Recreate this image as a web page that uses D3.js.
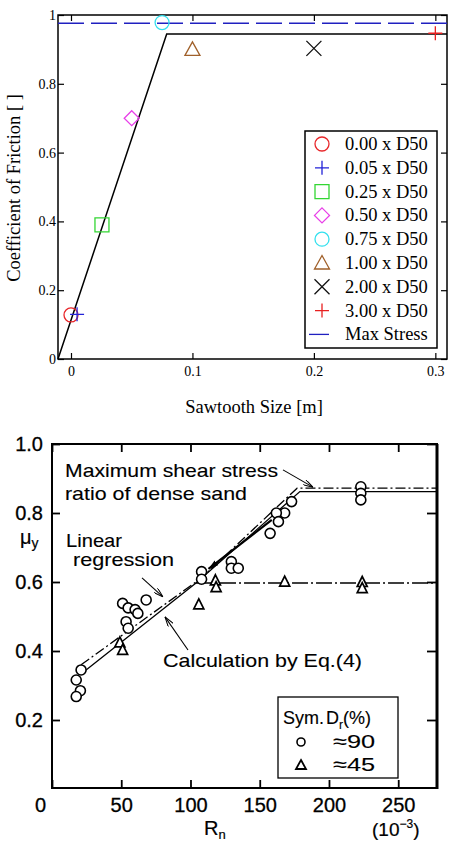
<!DOCTYPE html>
<html>
<head>
<meta charset="utf-8">
<script src="https://cdn.jsdelivr.net/npm/d3@7"></script>
<style>
body { margin: 0; background: #fff; }
svg { display: block; }
</style>
</head>
<body>
<svg id="chart" width="452" height="842"></svg>
<script>
// ---------- top chart data ----------
const sizeLabels   = ["0.00 x D50", "0.05 x D50", "0.25 x D50", "0.50 x D50", "0.75 x D50", "1.00 x D50", "2.00 x D50", "3.00 x D50"];
const sawtoothSize = [0.000, 0.005, 0.0255, 0.050, 0.075, 0.100, 0.200, 0.300];
const friction     = [0.128, 0.130, 0.390, 0.700, 0.978, 0.900, 0.903, 0.947];
const maxStress    = 0.976;
const fitSize      = [-0.0107, 0.0788, 0.3096];
const fitFriction  = [0, 0.945, 0.945];
const xTicksTop    = [0, 0.1, 0.2, 0.3];
const xLabelsTop   = ["0", "0.1", "0.2", "0.3"];
const yTicksTop    = [0, 0.2, 0.4, 0.6, 0.8, 1];
const yLabelsTop   = ["0", "0.2", "0.4", "0.6", "0.8", "1"];

// ---------- bottom chart data ----------
const denseR  = [21, 17.5, 20.5, 17.5, 51, 55, 60, 62, 68, 53.5, 55, 108, 108, 129.5, 129.5, 134.5, 173, 168, 162, 163.5, 157.5, 223, 223, 223];
const denseMu = [0.345, 0.316, 0.285, 0.268, 0.538, 0.525, 0.52, 0.509, 0.548, 0.485, 0.466, 0.63, 0.608, 0.659, 0.64, 0.64, 0.833, 0.80, 0.80, 0.775, 0.741, 0.876, 0.857, 0.838];
const looseR  = [49, 51, 106, 118, 118.5, 168, 224, 224];
const looseMu = [0.425, 0.403, 0.535, 0.605, 0.585, 0.601, 0.600, 0.582];
const calcDenseR  = [24.6, 104, 179, 278];
const calcDenseMu = [0.345, 0.597, 0.862, 0.862];
const regDenseR   = [21, 108, 177, 278];
const regDenseMu  = [0.36, 0.612, 0.872, 0.872];
const looseFlatR  = [104, 278];
const looseFlatMu = [0.597, 0.597];
const xTicksBot   = [0, 50, 100, 150, 200, 250];
const yTicksBot   = [0.2, 0.4, 0.6, 0.8, 1.0];
const yLabelsBot  = ["0.2", "0.4", "0.6", "0.8", "1.0"];

let svg = d3.select("#chart");

// marker drawing
function marker(g, shape, cx, cy, color, s) {
    let p;
    if (shape == "circle") {
        return g.append("circle").attr("cx", cx).attr("cy", cy).attr("r", s)
            .attr("fill", "none").attr("stroke", color).attr("stroke-width", 1.3);
    }
    if (shape == "plus")     p = `M${cx - s},${cy}H${cx + s}M${cx},${cy - s}V${cy + s}`;
    if (shape == "x")        p = `M${cx - s},${cy - s}L${cx + s},${cy + s}M${cx - s},${cy + s}L${cx + s},${cy - s}`;
    if (shape == "square")   p = `M${cx - s},${cy - s}H${cx + s}V${cy + s}H${cx - s}Z`;
    if (shape == "diamond")  p = `M${cx},${cy - s}L${cx + s},${cy}L${cx},${cy + s}L${cx - s},${cy}Z`;
    if (shape == "triangle") p = `M${cx},${cy - s}L${cx + s},${cy + s * 0.8}L${cx - s},${cy + s * 0.8}Z`;
    return g.append("path").attr("d", p).attr("fill", "none")
        .attr("stroke", color).attr("stroke-width", 1.3);
}

// ================= TOP CHART =================
let topG = svg.append("g");
let xT = d3.scaleLinear().domain([-0.0107, 0.3096]).range([58, 447]);
let yT = d3.scaleLinear().domain([0, 1]).range([359, 15]);

const shapes = ["circle", "plus", "square", "diamond", "circle", "triangle", "x", "plus"];
const colors = ["#e8262a", "#2323d8", "#33d633", "#e83ee8", "#33e0ee", "#a0602a", "#111111", "#e82020"];
const sizes  = [7, 7, 7, 7.5, 7, 7.5, 7.5, 7];

function styleAxis(g, font, size) {
    g.select(".domain").remove();
    g.selectAll("line").attr("stroke", "#000").attr("stroke-width", 1.2);
    g.selectAll("text").attr("font-family", font).attr("font-size", size).attr("fill", "#000");
}

topG.append("g").attr("transform", "translate(0,359)")
    .call(d3.axisBottom(xT).tickValues(xTicksTop).tickFormat((d, i) => xLabelsTop[i]).tickSize(-6).tickPadding(7))
    .call(g => styleAxis(g, "Liberation Serif", 14));
topG.append("g").attr("transform", "translate(58,0)")
    .call(d3.axisLeft(yT).tickValues(yTicksTop).tickFormat((d, i) => yLabelsTop[i]).tickSize(-6).tickPadding(2))
    .call(g => styleAxis(g, "Liberation Serif", 14));
topG.append("g").attr("transform", "translate(0,15)")
    .call(d3.axisTop(xT).tickValues(xTicksTop).tickFormat("").tickSize(-6))
    .call(g => styleAxis(g, "Liberation Serif", 14));
topG.append("g").attr("transform", "translate(447,0)")
    .call(d3.axisRight(yT).tickValues(yTicksTop).tickFormat("").tickSize(-6))
    .call(g => styleAxis(g, "Liberation Serif", 14));

// frame
topG.append("rect").attr("x", 58).attr("y", 15).attr("width", 389).attr("height", 344)
    .attr("fill", "none").attr("stroke", "#000").attr("stroke-width", 1.5);

// max stress line
topG.append("line")
    .attr("x1", xT.range()[0]).attr("x2", xT.range()[1])
    .attr("y1", yT(maxStress)).attr("y2", yT(maxStress))
    .attr("stroke", "#2020c0").attr("stroke-width", 1.3).attr("stroke-dasharray", "26,7");

// fit line
topG.append("path")
    .datum(fitSize.map((d, i) => [d, fitFriction[i]]))
    .attr("d", d3.line().x(d => xT(d[0])).y(d => yT(d[1])))
    .attr("fill", "none").attr("stroke", "#000").attr("stroke-width", 1.5);

// points
sawtoothSize.forEach(function (d, i) {
    marker(topG, shapes[i], xT(d), yT(friction[i]), colors[i], sizes[i]);
});

// legend
let leg = topG.append("g");
leg.append("rect").attr("x", 305).attr("y", 131).attr("width", 132).attr("height", 217)
    .attr("fill", "#fff").attr("stroke", "#000").attr("stroke-width", 1.5);
sizeLabels.concat(["Max Stress"]).forEach(function (lab, i) {
    let cy = 144 + i * 23.8;
    if (i < 8) marker(leg, shapes[i], 322, cy, colors[i], sizes[i]);
    else leg.append("line").attr("x1", 309).attr("x2", 329).attr("y1", cy).attr("y2", cy)
        .attr("stroke", "#2020c0").attr("stroke-width", 1.3);
    leg.append("text").text(lab).attr("x", 345).attr("y", cy + 6)
        .attr("font-family", "Liberation Serif").attr("font-size", 18.5);
});

// axis titles
topG.append("text").text("Sawtooth Size [m]")
    .attr("x", 254).attr("y", 413).attr("text-anchor", "middle")
    .attr("font-family", "Liberation Serif").attr("font-size", 18.5);
topG.append("text").text("Coefficient of Friction [ ]")
    .attr("transform", "translate(20,188) rotate(-90)").attr("text-anchor", "middle")
    .attr("font-family", "Liberation Serif").attr("font-size", 18.5);

// ================= BOTTOM CHART =================
let bot = svg.append("g");
let xB = d3.scaleLinear().domain([0, 278]).range([52, 437]);
let yB = d3.scaleLinear().domain([0, 1]).range([789, 444]);
const sans = "Liberation Sans";

bot.append("g").attr("transform", "translate(0,788)")
    .call(d3.axisBottom(xB).tickValues(xTicksBot).tickSize(-8).tickPadding(10))
    .call(g => styleAxis(g, sans, 20))
    .call(g => g.selectAll(".tick text").filter(d => d == 0).attr("dx", -12));
bot.append("g").attr("transform", "translate(52,0)")
    .call(d3.axisLeft(yB).tickValues(yTicksBot).tickFormat((d, i) => yLabelsBot[i]).tickSize(-8).tickPadding(9))
    .call(g => styleAxis(g, sans, 20));
bot.append("g").attr("transform", "translate(0,444)")
    .call(d3.axisTop(xB).tickValues(xTicksBot).tickFormat("").tickSize(-8))
    .call(g => styleAxis(g, sans, 20));
bot.append("g").attr("transform", "translate(437,0)")
    .call(d3.axisRight(yB).tickValues(yTicksBot).tickFormat("").tickSize(-10))
    .call(g => styleAxis(g, sans, 20));
bot.selectAll(".tick text").attr("stroke", "#000").attr("stroke-width", 0.3);
bot.selectAll(".tick line").attr("stroke-width", 1.8);

bot.append("rect").attr("x", 52).attr("y", 444).attr("width", 385).attr("height", 344)
    .attr("fill", "none").attr("stroke", "#000").attr("stroke-width", 2);
bot.append("line").attr("x1", 437).attr("x2", 437).attr("y1", 444).attr("y2", 789)
    .attr("stroke", "#000").attr("stroke-width", 3);

let lineB = d3.line().x(d => xB(d[0])).y(d => yB(d[1]));
function zip(a, b) { return a.map((d, i) => [d, b[i]]); }

bot.append("path").datum(zip(calcDenseR, calcDenseMu)).attr("d", lineB)
    .attr("fill", "none").attr("stroke", "#000").attr("stroke-width", 1.3);
bot.append("path").datum(zip(regDenseR, regDenseMu)).attr("d", lineB)
    .attr("fill", "none").attr("stroke", "#000").attr("stroke-width", 1.3)
    .attr("stroke-dasharray", "10,3,2,3");
bot.append("path").datum(zip(looseFlatR, looseFlatMu)).attr("d", lineB)
    .attr("fill", "none").attr("stroke", "#000").attr("stroke-width", 1.4)
    .attr("stroke-dasharray", "16,3,2,3");

// arrow markers
let defs = svg.append("defs");
defs.append("marker").attr("id", "open").attr("viewBox", "0 0 10 6").attr("refX", 10).attr("refY", 3)
    .attr("markerWidth", 10).attr("markerHeight", 6).attr("markerUnits", "userSpaceOnUse").attr("orient", "auto")
    .append("path").attr("d", "M0,0L10,3L0,6").attr("fill", "none").attr("stroke", "#000").attr("stroke-width", 1);
defs.append("marker").attr("id", "solid").attr("viewBox", "0 0 10 6").attr("refX", 10).attr("refY", 3)
    .attr("markerWidth", 10).attr("markerHeight", 7).attr("markerUnits", "userSpaceOnUse").attr("orient", "auto")
    .append("path").attr("d", "M0,0L10,3L0,6Z").attr("fill", "#000");

// annotation arrows [fromR, fromMu, toR, toMu]
const arrows = [
    [166.8, 0.925, 188.4, 0.875, 1.1, "open"],
    [65, 0.612, 80.1, 0.557, 1.1, "open"],
    [98.2, 0.403, 81.6, 0.499, 1.1, "open"],
    [158.7, 0.78, 113, 0.638, 2.2, "solid"]
];
arrows.forEach(function (a) {
    bot.append("line").attr("x1", xB(a[0])).attr("y1", yB(a[1])).attr("x2", xB(a[2])).attr("y2", yB(a[3]))
        .attr("stroke", "#000").attr("stroke-width", a[4]).attr("marker-end", `url(#${a[5]})`);
});

// points
denseR.forEach(function (d, i) {
    bot.append("circle").attr("cx", xB(d)).attr("cy", yB(denseMu[i])).attr("r", 5)
        .attr("fill", "#fff").attr("stroke", "#000").attr("stroke-width", 1.6);
});
looseR.forEach(function (d, i) {
    let cx = xB(d), cy = yB(looseMu[i]);
    bot.append("path").attr("d", `M${cx},${cy - 5.5}L${cx + 5},${cy + 4.5}L${cx - 5},${cy + 4.5}Z`)
        .attr("fill", "#fff").attr("stroke", "#000").attr("stroke-width", 1.7);
});

// annotation texts
function note(txt, x, y, w) {
    let t = bot.append("text").text(txt).attr("x", x).attr("y", y)
        .attr("font-family", sans).attr("font-size", 19).attr("fill", "#000")
        .attr("stroke", "#000").attr("stroke-width", 0.12);
    if (w) t.attr("textLength", w).attr("lengthAdjust", "spacingAndGlyphs");
    return t;
}
note("Maximum shear stress", 65, 477, 213);
note("ratio of dense sand", 65, 500, 182);
note("Linear", 66, 547, 56);
note("regression", 73, 566, 101);
note("Calculation  by Eq.(4)", 163, 667, 199);

// legend box
bot.append("rect").attr("x", 278).attr("y", 697).attr("width", 120).attr("height", 81)
    .attr("fill", "#fff").attr("stroke", "#000").attr("stroke-width", 1.3);
note("Sym.", 283, 724).attr("font-size", 18);
let lt = bot.append("text").attr("x", 326).attr("y", 724)
    .attr("font-family", sans).attr("font-size", 18).attr("stroke", "#000").attr("stroke-width", 0.12);
lt.append("tspan").text("D");
lt.append("tspan").text("r").attr("font-size", 12).attr("dy", 5);
lt.append("tspan").text("(%)").attr("dy", -5);
bot.append("circle").attr("cx", 301).attr("cy", 742).attr("r", 4)
    .attr("fill", "none").attr("stroke", "#000").attr("stroke-width", 1.6);
bot.append("path").attr("d", "M301,760L306,769L296,769Z")
    .attr("fill", "none").attr("stroke", "#000").attr("stroke-width", 1.8);
note("\u224890", 333, 748, 42);
note("\u224845", 333, 771, 42);

// axis labels
let mu = bot.append("text").attr("x", 20).attr("y", 544)
    .attr("font-family", sans).attr("font-size", 20).attr("stroke", "#000").attr("stroke-width", 0.2);
mu.append("tspan").text("\u03bc");
mu.append("tspan").text("y").attr("font-size", 14).attr("dy", 4);
let rn = bot.append("text").attr("x", 204).attr("y", 835)
    .attr("font-family", sans).attr("font-size", 20).attr("stroke", "#000").attr("stroke-width", 0.2);
rn.append("tspan").text("R");
rn.append("tspan").text("n").attr("font-size", 13).attr("dy", 4);
let ten = bot.append("text").attr("x", 372).attr("y", 836)
    .attr("font-family", sans).attr("font-size", 19).attr("stroke", "#000").attr("stroke-width", 0.2);
ten.append("tspan").text("(10");
ten.append("tspan").text("\u22123").attr("font-size", 12).attr("dy", -8);
ten.append("tspan").text(")").attr("dy", 8);
</script>
</body>
</html>
